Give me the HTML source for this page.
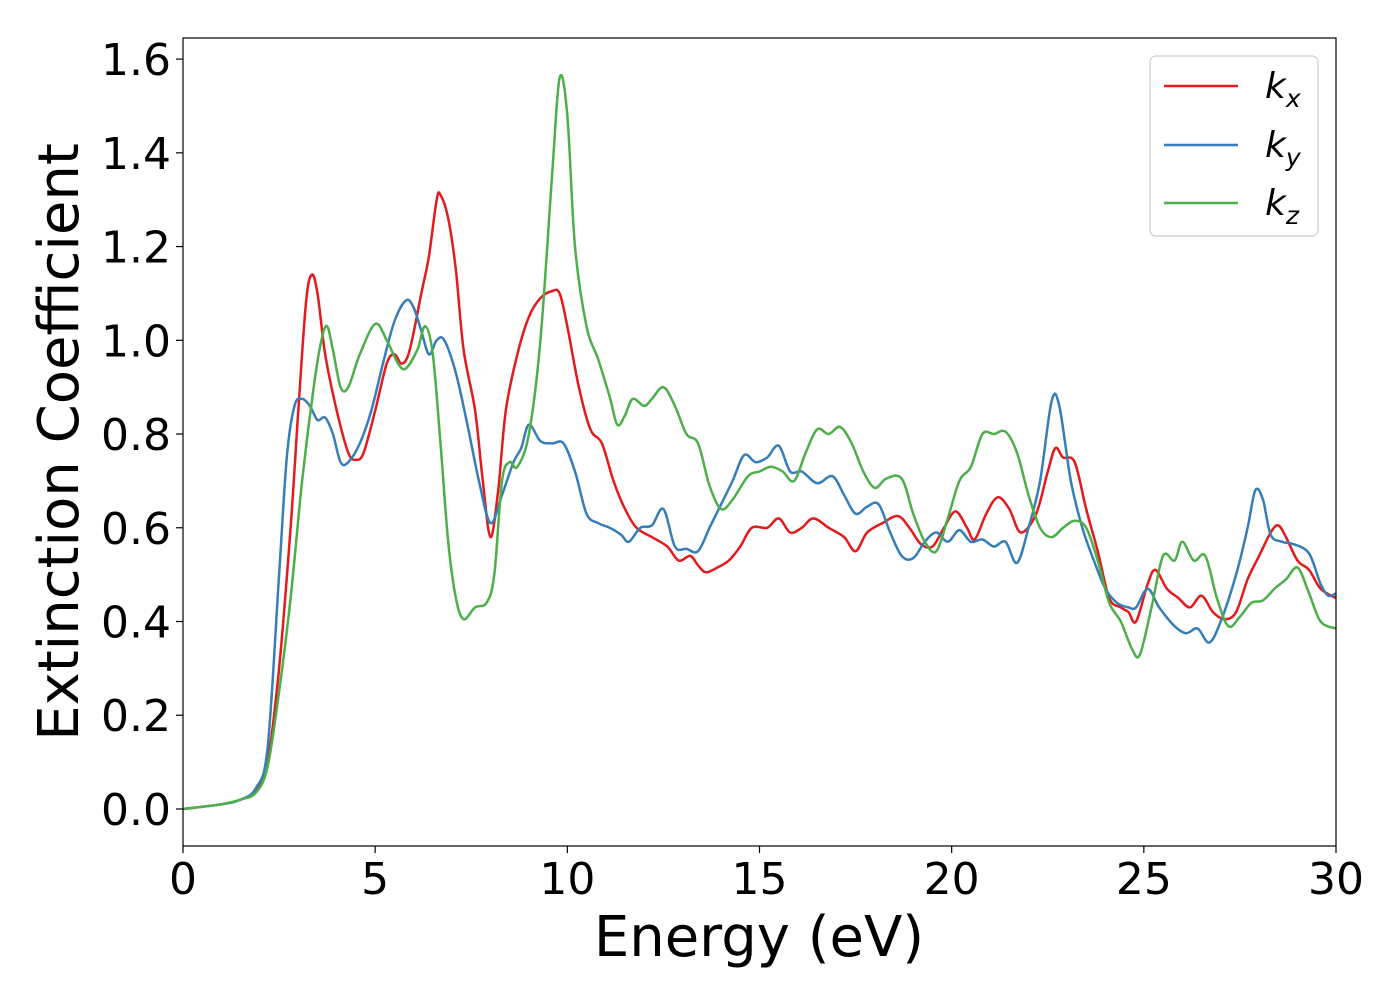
<!DOCTYPE html>
<html><head><meta charset="utf-8"><style>
body{margin:0;background:#fff;}
svg text{font-family:"DejaVu Sans","Liberation Sans",sans-serif;fill:#000;}
</style></head><body>
<svg id="chart" width="1400" height="1000" viewBox="0 0 1400 1000" xmlns="http://www.w3.org/2000/svg">
<rect x="0" y="0" width="1400" height="1000" fill="#fff"/>
<g id="series"></g>
<rect x="183" y="38" width="1153" height="808" fill="none" stroke="#000" stroke-width="1.2"/>
<g id="xticks"></g><g id="yticks"></g>
<text x="759" y="956" font-size="56" text-anchor="middle">Energy (eV)</text>
<text transform="translate(78,442) rotate(-90)" font-size="56" text-anchor="middle">Extinction Coefficient</text>
<g>
<rect x="1150" y="56" width="168" height="180" rx="6" fill="#fff" stroke="#ccc" stroke-width="1.2"/>
<line x1="1164" y1="86" x2="1238" y2="86" stroke="#e41a1c" stroke-width="2.5"/>
<text x="1265" y="98" font-size="36" font-style="italic">k<tspan font-size="25" dy="9">x</tspan></text>
<line x1="1164" y1="145" x2="1238" y2="145" stroke="#377eb8" stroke-width="2.5"/>
<text x="1265" y="157" font-size="36" font-style="italic">k<tspan font-size="25" dy="9">y</tspan></text>
<line x1="1164" y1="203" x2="1238" y2="203" stroke="#4daf4a" stroke-width="2.5"/>
<text x="1265" y="215" font-size="36" font-style="italic">k<tspan font-size="25" dy="9">z</tspan></text>
</g>
</svg>
<script>
const xTicks=[0,5,10,15,20,25,30];
const yTicks=[0.0,0.2,0.4,0.6,0.8,1.0,1.2,1.4,1.6];
const kxE=[0,1,1.5,1.9,2.2,2.5,2.8,3.0,3.2,3.35,3.5,3.7,4.0,4.3,4.5,4.7,5.0,5.3,5.5,5.7,5.9,6.2,6.4,6.6,6.7,6.9,7.1,7.3,7.6,7.8,8.0,8.2,8.4,8.7,9.0,9.3,9.6,9.8,10.0,10.3,10.6,10.9,11.2,11.5,11.8,12.2,12.6,12.9,13.2,13.4,13.6,13.9,14.2,14.5,14.8,15.2,15.5,15.8,16.1,16.4,16.8,17.2,17.5,17.8,18.2,18.6,18.9,19.2,19.5,19.8,20.1,20.4,20.6,20.9,21.2,21.5,21.8,22.2,22.5,22.7,22.9,23.2,23.5,23.8,24.1,24.4,24.6,24.8,25.1,25.3,25.6,25.9,26.2,26.5,26.8,27.1,27.4,27.7,28.0,28.3,28.5,28.7,29.0,29.3,29.6,30];
const kxV=[0,0.01,0.02,0.04,0.1,0.3,0.6,0.85,1.08,1.14,1.1,0.97,0.85,0.76,0.745,0.76,0.85,0.95,0.97,0.95,0.98,1.1,1.18,1.3,1.31,1.26,1.15,0.98,0.85,0.7,0.58,0.68,0.85,0.97,1.05,1.09,1.105,1.1,1.03,0.9,0.81,0.78,0.7,0.64,0.6,0.58,0.56,0.53,0.54,0.52,0.505,0.515,0.53,0.56,0.6,0.6,0.62,0.59,0.6,0.62,0.6,0.58,0.55,0.59,0.61,0.625,0.6,0.565,0.56,0.6,0.635,0.6,0.575,0.63,0.665,0.64,0.59,0.63,0.72,0.77,0.75,0.74,0.64,0.55,0.45,0.43,0.42,0.4,0.48,0.51,0.47,0.45,0.43,0.455,0.42,0.405,0.42,0.49,0.54,0.59,0.605,0.58,0.53,0.51,0.47,0.45];
const kyE=[0,1,1.5,1.9,2.2,2.5,2.7,2.9,3.1,3.3,3.5,3.7,3.9,4.1,4.3,4.6,4.9,5.2,5.5,5.8,6.0,6.2,6.4,6.6,6.8,7.1,7.4,7.7,8.0,8.3,8.6,8.8,9.0,9.3,9.6,9.9,10.2,10.5,10.8,11.1,11.4,11.6,11.9,12.2,12.5,12.8,13.1,13.4,13.7,14.0,14.3,14.6,14.9,15.2,15.5,15.8,16.1,16.5,16.9,17.2,17.5,17.8,18.1,18.4,18.7,19.0,19.3,19.6,19.9,20.2,20.5,20.8,21.1,21.4,21.7,22.0,22.3,22.6,22.8,23.1,23.4,23.7,24.0,24.3,24.6,24.8,25.1,25.4,25.8,26.1,26.4,26.7,27.0,27.4,27.7,27.9,28.1,28.3,28.6,28.9,29.3,29.6,29.8,30];
const kyV=[0,0.01,0.02,0.045,0.13,0.5,0.75,0.86,0.875,0.86,0.83,0.835,0.8,0.74,0.74,0.78,0.85,0.95,1.04,1.085,1.07,1.02,0.97,1.0,1.0,0.93,0.82,0.7,0.61,0.67,0.74,0.77,0.82,0.785,0.78,0.78,0.72,0.63,0.61,0.6,0.585,0.57,0.6,0.605,0.64,0.56,0.555,0.55,0.6,0.65,0.7,0.755,0.74,0.75,0.775,0.72,0.72,0.695,0.71,0.67,0.63,0.645,0.65,0.59,0.54,0.535,0.57,0.59,0.57,0.595,0.57,0.575,0.56,0.57,0.525,0.6,0.7,0.87,0.86,0.7,0.6,0.53,0.47,0.44,0.43,0.43,0.47,0.43,0.39,0.375,0.385,0.355,0.4,0.5,0.6,0.68,0.66,0.585,0.57,0.565,0.545,0.48,0.455,0.46];
const kzE=[0,1,1.5,1.9,2.2,2.5,2.8,3.1,3.4,3.6,3.75,3.9,4.1,4.3,4.6,5.0,5.3,5.6,5.8,6.1,6.3,6.5,6.7,6.9,7.1,7.3,7.6,7.9,8.1,8.3,8.5,8.7,9.0,9.3,9.6,9.8,10.0,10.2,10.5,10.8,11.1,11.3,11.5,11.7,12.0,12.2,12.5,12.8,13.1,13.4,13.7,14.0,14.3,14.7,15.0,15.3,15.6,15.9,16.2,16.5,16.8,17.1,17.4,17.7,18.0,18.3,18.7,19.0,19.3,19.6,19.9,20.2,20.5,20.8,21.1,21.4,21.7,22.0,22.3,22.6,22.9,23.2,23.5,23.8,24.1,24.4,24.7,24.9,25.2,25.5,25.8,26.0,26.3,26.6,26.9,27.2,27.5,27.8,28.1,28.4,28.7,29.0,29.3,29.6,30];
const kzV=[0,0.01,0.02,0.035,0.09,0.25,0.45,0.7,0.9,1.0,1.03,0.98,0.9,0.9,0.97,1.035,1.0,0.95,0.94,0.98,1.03,0.97,0.78,0.57,0.45,0.405,0.43,0.44,0.5,0.7,0.74,0.73,0.8,1.0,1.35,1.56,1.48,1.2,1.03,0.96,0.88,0.82,0.84,0.875,0.86,0.875,0.9,0.86,0.8,0.78,0.69,0.64,0.66,0.71,0.72,0.73,0.72,0.70,0.76,0.81,0.8,0.815,0.78,0.72,0.685,0.705,0.705,0.63,0.57,0.55,0.62,0.7,0.73,0.8,0.8,0.805,0.76,0.67,0.6,0.58,0.6,0.615,0.6,0.53,0.44,0.4,0.34,0.33,0.43,0.54,0.53,0.57,0.53,0.54,0.45,0.39,0.41,0.44,0.445,0.47,0.49,0.515,0.46,0.4,0.385];

const X0=183,X1=1336,YT=38,YB=846,XMIN=0,XMAX=30,YMIN=-0.079,YMAX=1.645;
const sx=v=>X0+(v-XMIN)/(XMAX-XMIN)*(X1-X0);
const sy=v=>YB-(v-YMIN)/(YMAX-YMIN)*(YB-YT);
const NS="http://www.w3.org/2000/svg";
function pathFor(xs,ys){
  const p=xs.map((x,i)=>[sx(x),sy(ys[i])]);
  let d="M"+p[0][0].toFixed(1)+","+p[0][1].toFixed(1);
  for(let i=0;i<p.length-1;i++){
    const a=p[Math.max(0,i-1)],b=p[i],c=p[i+1],e=p[Math.min(p.length-1,i+2)];
    const c1=[b[0]+(c[0]-a[0])/6,b[1]+(c[1]-a[1])/6],c2=[c[0]-(e[0]-b[0])/6,c[1]-(e[1]-b[1])/6];
    d+="C"+c1[0].toFixed(1)+","+c1[1].toFixed(1)+" "+c2[0].toFixed(1)+","+c2[1].toFixed(1)+" "+c[0].toFixed(1)+","+c[1].toFixed(1);
  }
  return d;
}
const g=document.getElementById("series");
[[kxE,kxV,"#e41a1c","kx"],[kyE,kyV,"#377eb8","ky"],[kzE,kzV,"#4daf4a","kz"]].forEach(s=>{
  const el=document.createElementNS(NS,"path");
  el.setAttribute("d",pathFor(s[0],s[1]));
  el.setAttribute("fill","none");el.setAttribute("stroke",s[2]);el.setAttribute("stroke-width","2.5");
  
  
  g.appendChild(el);
});
const xg=document.getElementById("xticks");
xTicks.forEach(t=>{
  const l=document.createElementNS(NS,"line");
  l.setAttribute("x1",sx(t));l.setAttribute("x2",sx(t));l.setAttribute("y1",YB);l.setAttribute("y2",YB+7);l.setAttribute("stroke","#000");l.setAttribute("stroke-width","1.2");
  
  
  xg.appendChild(l);
  const tx=document.createElementNS(NS,"text");
  tx.setAttribute("x",sx(t));tx.setAttribute("y",YB+48);tx.setAttribute("font-size","44");tx.setAttribute("text-anchor","middle");
  tx.textContent=String(t);
  
  
  xg.appendChild(tx);
});
const yg=document.getElementById("yticks");
yTicks.forEach(t=>{
  const l=document.createElementNS(NS,"line");
  l.setAttribute("x1",X0-7);l.setAttribute("x2",X0);l.setAttribute("y1",sy(t));l.setAttribute("y2",sy(t));l.setAttribute("stroke","#000");l.setAttribute("stroke-width","1.2");
  
  
  yg.appendChild(l);
  const tx=document.createElementNS(NS,"text");
  tx.setAttribute("x",X0-12);tx.setAttribute("y",sy(t)+16);tx.setAttribute("font-size","44");tx.setAttribute("text-anchor","end");
  tx.textContent=t.toFixed(1);
  
  
  yg.appendChild(tx);
});
</script>
</body></html>
